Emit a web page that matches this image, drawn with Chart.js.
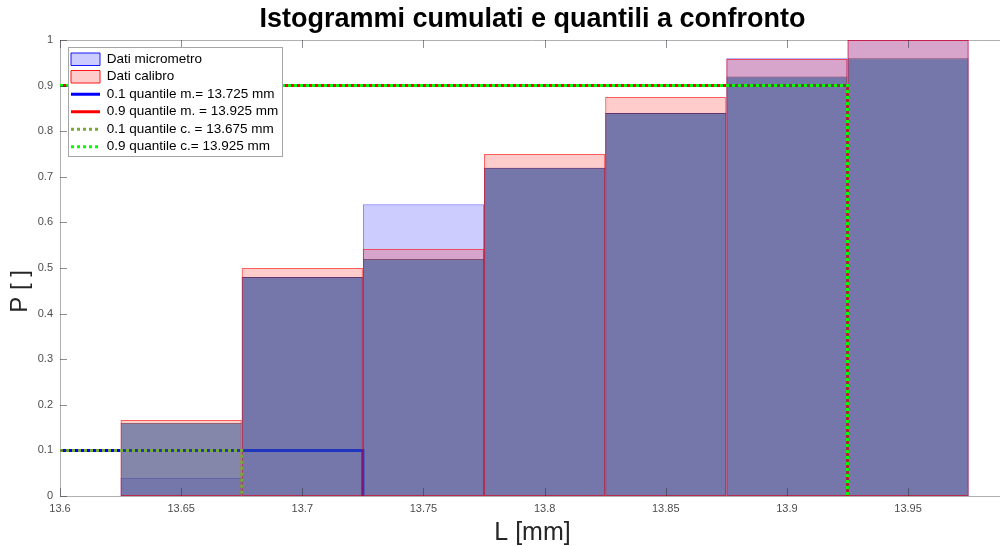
<!DOCTYPE html>
<html>
<head>
<meta charset="utf-8">
<script src="https://cdn.jsdelivr.net/npm/chart.js@4.4.1/dist/chart.umd.min.js"></script>
<style>
  html, body { margin: 0; padding: 0; background: #fff; overflow: hidden; width: 1000px; height: 546px; }
  #wrap { width: 1010px; height: 546px; }
</style>
</head>
<body>
<div id="wrap"><canvas id="hist" width="1010" height="546"></canvas></div>
<script>
// bin centres of the cumulative histograms (bin width 0.05 mm)
const binCenters = [13.65, 13.7, 13.75, 13.8, 13.85, 13.9, 13.95];
const micrometro = [0.04, 0.48, 0.64, 0.72, 0.84, 0.96, 1.0];
const calibro = [0.1667, 0.5, 0.5417, 0.75, 0.875, 0.9583, 1.0];
const overlay = [0.16, 0.48, 0.52, 0.72, 0.84, 0.92, 0.96];

const quantileNames = [
    '0.1 quantile m.= 13.725 mm',
    '0.9 quantile m. = 13.925 mm',
    '0.1 quantile c. = 13.675 mm',
    '0.9 quantile c.= 13.925 mm'
];
const quantileLevels = [0.1, 0.9, 0.1, 0.9];
const quantileValues = [13.725, 13.925, 13.675, 13.925];

const xTicks = [13.6, 13.65, 13.7, 13.75, 13.8, 13.85, 13.9, 13.95];
const yTicks = [0, 0.1, 0.2, 0.3, 0.4, 0.5, 0.6, 0.7, 0.8, 0.9, 1];
const xMin = 13.6;
const xMax = 13.99;

const fontFamily = "'Liberation Sans', Arial, sans-serif";

function quantileLine(i) {
    return [
        { x: xMin, y: quantileLevels[i] },
        { x: quantileValues[i], y: quantileLevels[i] },
        { x: quantileValues[i], y: 0 }
    ];
}

function lineSet(i, color, dash, order) {
    return {
        type: 'line',
        label: quantileNames[i],
        data: quantileLine(i),
        borderColor: color,
        backgroundColor: color,
        borderWidth: 3,
        borderDash: dash,
        borderCapStyle: 'butt',
        pointRadius: 0,
        tension: 0,
        fill: false,
        order: order
    };
}

const barCommon = {
    barPercentage: 1,
    categoryPercentage: 1,
    grouped: false,
    inflateAmount: 0
};

// MATLAB-like axes decorations: top box line, inward tick marks, boxed legend
const axesBox = {
    id: 'axesBox',
    beforeDatasetsDraw(chart) {
        const { ctx, chartArea } = chart;
        ctx.save();
        ctx.strokeStyle = '#b0b0b0';
        ctx.lineWidth = 1;
        ctx.beginPath();
        ctx.moveTo(chartArea.left, chartArea.top + 0.5);
        ctx.lineTo(chartArea.right, chartArea.top + 0.5);
        ctx.stroke();
        ctx.restore();
    },
    afterDatasetsDraw(chart) {
        const { ctx, chartArea, scales } = chart;
        ctx.save();
        ctx.strokeStyle = 'rgba(50,50,60,0.55)';
        ctx.lineWidth = 1;
        ctx.beginPath();
        xTicks.forEach(v => {
            const px = Math.round(scales.x.getPixelForValue(v)) + 0.5;
            ctx.moveTo(px, chartArea.bottom);
            ctx.lineTo(px, chartArea.bottom - 8);
            ctx.moveTo(px, chartArea.top);
            ctx.lineTo(px, chartArea.top + 8);
        });
        yTicks.forEach(v => {
            const py = Math.round(scales.y.getPixelForValue(v)) + 0.5;
            ctx.moveTo(chartArea.left, py);
            ctx.lineTo(chartArea.left + 7, py);
        });
        ctx.stroke();

        const lg = chart.legend;
        const lab = lg.options.labels;
        const pad = lab.padding;
        const fs = lab.font.size;
        const pitch = fs + pad;
        const n = lg.legendItems.length;
        const x0 = lg.left + pad - 3;
        const y0 = lg.top + pad - 5.5;
        const x1 = lg.left + pad + lg.columnSizes[0].width + 4;
        const y1 = lg.top + pad + (n - 1) * pitch + fs + 2.7;
        ctx.fillStyle = '#fff';
        ctx.fillRect(x0, y0, x1 - x0, y1 - y0);
        ctx.strokeStyle = '#a6a6a6';
        ctx.strokeRect(Math.round(x0) + 0.5, Math.round(y0) + 0.5, Math.round(x1 - x0), Math.round(y1 - y0));
        ctx.restore();
        lg.draw();
    },
    afterLayout(chart) {
        const lg = chart.legend;
        const ca = chart.chartArea;
        lg.left = ca.left + 7;
        lg.top = ca.top + 8.5;
        lg.right = lg.left + lg.width;
        lg.bottom = lg.top + lg.height;
    }
};

new Chart(document.getElementById('hist'), {
    type: 'bar',
    data: {
        labels: binCenters,
        datasets: [
            Object.assign({
                label: 'Dati micrometro',
                data: micrometro,
                backgroundColor: 'rgba(0,0,255,0.2)',
                borderColor: 'rgba(0,0,255,0.5)',
                borderWidth: 1,
                borderSkipped: false,
                order: 7
            }, barCommon),
            Object.assign({
                label: 'Dati calibro',
                data: calibro,
                backgroundColor: 'rgba(255,0,0,0.2)',
                borderColor: 'rgba(255,0,0,0.6)',
                borderWidth: 0,
                order: 6
            }, barCommon),
            lineSet(0, '#0000ff', [], 5),
            lineSet(1, '#ff0000', [], 4),
            lineSet(2, '#77ac30', [3, 3], 2),
            lineSet(3, '#00ff00', [3, 3], 1),
            Object.assign({
                data: overlay,
                backgroundColor: 'rgba(51,88,147,0.6)',
                borderColor: 'rgba(60,10,35,0.55)',
                borderWidth: { top: 1, left: 0, right: 0, bottom: 0 },
                borderSkipped: false,
                order: 3
            }, barCommon),
            Object.assign({
                data: calibro,
                backgroundColor: 'rgba(0,0,0,0)',
                borderColor: 'rgba(255,0,0,0.55)',
                borderWidth: 1,
                borderSkipped: false,
                order: 2.5
            }, barCommon)
        ]
    },
    options: {
        responsive: false,
        animation: false,
        devicePixelRatio: 1,
        layout: { padding: { left: 0, right: 5, top: 0, bottom: 0 } },
        plugins: {
            tooltip: { enabled: false },
            title: {
                display: true,
                text: 'Istogrammi cumulati e quantili a confronto',
                fullSize: false,
                color: '#000',
                font: { family: fontFamily, size: 27, weight: 'bold', lineHeight: 1.2 },
                padding: { top: 3, bottom: 4.6 }
            },
            legend: {
                position: 'chartArea',
                align: 'start',
                labels: {
                    usePointStyle: true,
                    pointStyleWidth: 29,
                    boxHeight: 12.5,
                    padding: 4,
                    color: '#000',
                    font: { family: fontFamily, size: 13.5 },
                    generateLabels(chart) {
                        return chart.data.datasets.map((ds, i) => ({
                            text: ds.label,
                            fillStyle: ds.backgroundColor,
                            strokeStyle: ds.type === 'line' ? ds.borderColor : ds.borderColor.replace(/[\d.]+\)$/, '0.9)'),
                            lineWidth: ds.type === 'line' ? 3 : 1,
                            lineDash: ds.borderDash || [],
                            lineCap: 'butt',
                            pointStyle: ds.type === 'line' ? 'line' : 'rect',
                            hidden: false,
                            datasetIndex: i
                        })).filter(item => item.text);
                    }
                }
            }
        },
        scales: {
            x: {
                type: 'linear',
                min: xMin,
                max: xMax,
                offset: false,
                grid: { display: false, drawTicks: false },
                border: { display: true, color: '#b0b0b0', width: 1 },
                afterBuildTicks: s => { s.ticks = xTicks.map(v => ({ value: v })); },
                afterFit: s => { s.height = 50; },
                ticks: {
                    autoSkip: false,
                    maxRotation: 0,
                    padding: 6,
                    color: '#4d4d4d',
                    font: { family: fontFamily, size: 11 },
                    callback: v => String(+v.toFixed(2))
                },
                title: {
                    display: true,
                    text: 'L [mm]',
                    color: '#262626',
                    font: { family: fontFamily, size: 25, lineHeight: 1 },
                    padding: { top: 0, bottom: 0 }
                }
            },
            y: {
                min: 0,
                max: 1,
                grid: { display: false, drawTicks: false },
                border: { display: true, color: '#b0b0b0', width: 1 },
                afterBuildTicks: s => { s.ticks = yTicks.map(v => ({ value: v })); },
                afterFit: s => { s.width = 60; },
                ticks: {
                    padding: 7,
                    color: '#4d4d4d',
                    font: { family: fontFamily, size: 11 },
                    callback: v => String(+v.toFixed(1))
                },
                title: {
                    display: true,
                    text: 'P [ ]       ',
                    color: '#262626',
                    font: { family: fontFamily, size: 24, lineHeight: 1.2 },
                    padding: { top: 6, bottom: 0 }
                }
            }
        }
    },
    plugins: [axesBox]
});
</script>
</body>
</html>
